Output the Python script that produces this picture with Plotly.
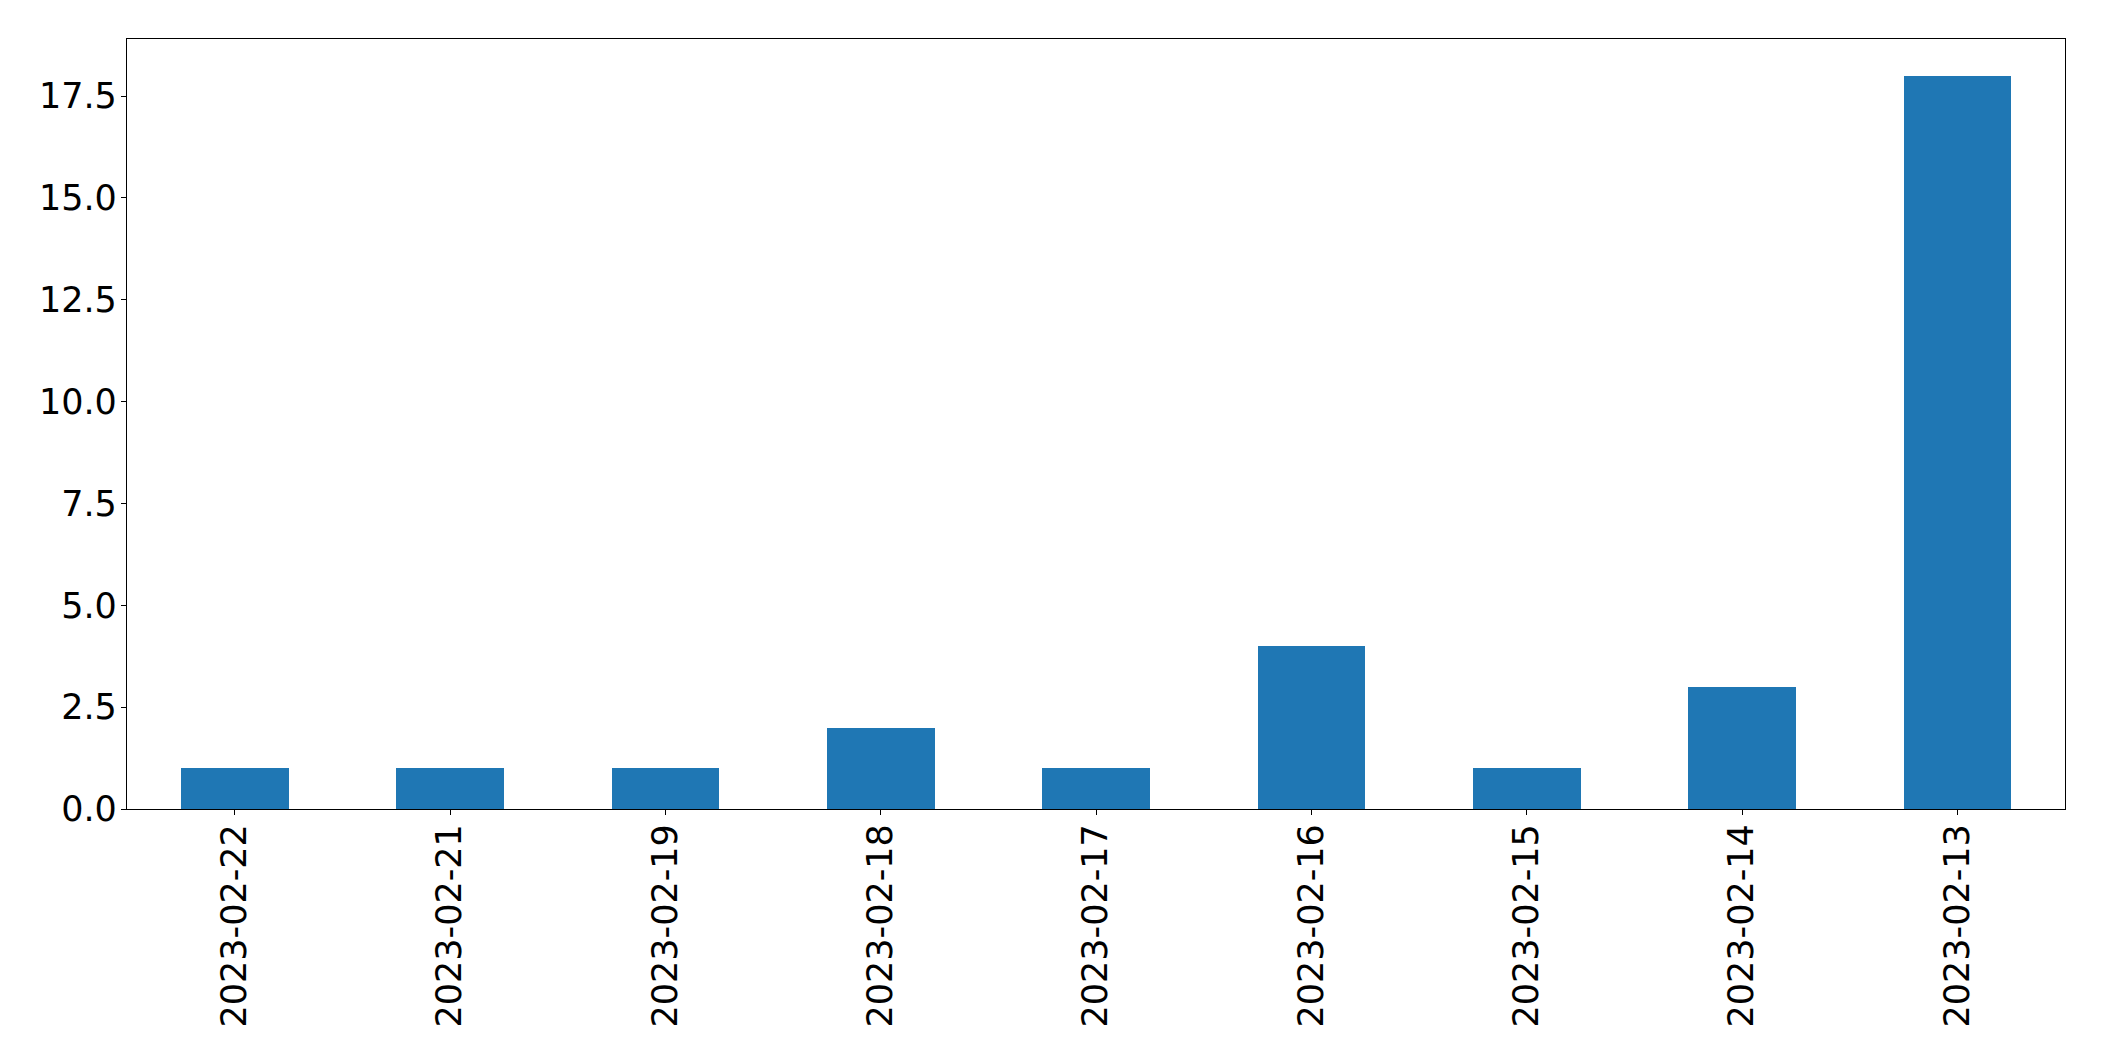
import plotly.graph_objects as go

dates = ["2023-02-22", "2023-02-21", "2023-02-19", "2023-02-18", "2023-02-17",
         "2023-02-16", "2023-02-15", "2023-02-14", "2023-02-13"]
counts = [1, 1, 1, 2, 1, 4, 1, 3, 18]
y_ticks = [0, 2.5, 5, 7.5, 10, 12.5, 15, 17.5]

fig = go.Figure(go.Bar(x=dates, y=counts, width=0.5, marker=dict(color="#1f77b4", line=dict(width=0))))

font = dict(family="DejaVu Sans", size=35, color="black")
fig.update_layout(
    width=2088, height=1045,
    margin=dict(l=119, r=31, t=31, b=244),
    plot_bgcolor="white", paper_bgcolor="white",
    showlegend=False,
    font=font,
    bargap=0,
)
fig.update_xaxes(
    type="category", range=[-0.5, len(dates) - 0.5],
    tickangle=-90, ticks="outside", ticklen=5, tickwidth=1.3, tickcolor="black",
    showline=True, linecolor="black", linewidth=1.3, mirror=True,
    showgrid=False, zeroline=False, tickfont=font, ticklabelstandoff=-5,
)
fig.update_yaxes(
    range=[0, max(counts) * 1.05], tickvals=y_ticks,
    ticktext=[f"{v:.1f}" for v in y_ticks],
    ticks="outside", ticklen=5, tickwidth=1.3, tickcolor="black",
    showline=True, linecolor="black", linewidth=1.3, mirror=True,
    showgrid=False, zeroline=False, tickfont=font, ticklabelstandoff=-3,
)
fig.write_html("out.html")
